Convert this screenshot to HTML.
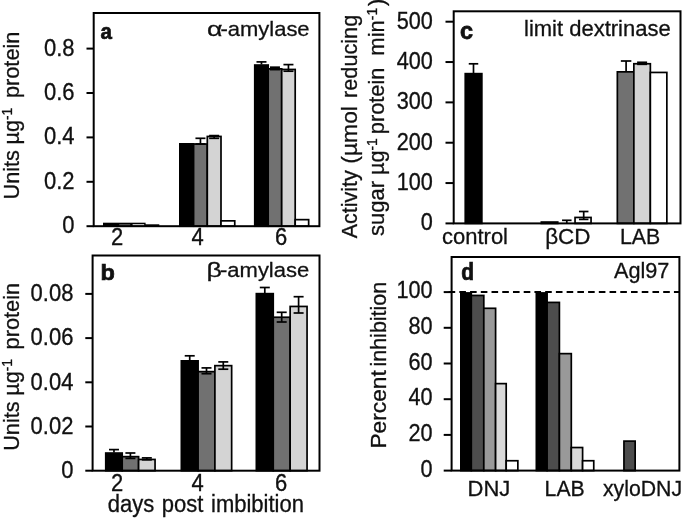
<!DOCTYPE html>
<html>
<head>
<meta charset="utf-8">
<title>Figure</title>
<style>
html, body { margin: 0; padding: 0; background: #fff; }
body { width: 685px; height: 519px; overflow: hidden; }
svg { display: block; filter: grayscale(1); }
svg text { font-family: "Liberation Sans", sans-serif; fill: #111; stroke: #111; stroke-width: 0.3px; }
</style>
</head>
<body>
<svg width="685" height="519" viewBox="0 0 685 519">
<rect x="0" y="0" width="685" height="519" fill="#fff"/>
<rect x="103.0" y="222.7" width="42.6" height="3.50" fill="#000"/>
<rect x="145.0" y="224.3" width="14.3" height="1.90" fill="#000"/>
<rect x="119.2" y="224.5" width="11.0" height="1.0" fill="#999"/>
<rect x="132.6" y="224.2" width="11.6" height="1.3" fill="#eee"/>
<rect x="179.85" y="143.85" width="13.75" height="82.35" fill="#000" stroke="#000" stroke-width="1.7"/>
<rect x="193.60" y="144.05" width="13.70" height="82.15" fill="#717171" stroke="#000" stroke-width="1.7"/>
<rect x="207.30" y="136.45" width="13.70" height="89.75" fill="#d4d4d4" stroke="#000" stroke-width="1.7"/>
<rect x="221.00" y="220.85" width="13.75" height="5.35" fill="#fff" stroke="#000" stroke-width="1.7"/>
<line x1="200.45" y1="138.30" x2="200.45" y2="144.00" stroke="#000" stroke-width="1.7"/>
<line x1="195.45" y1="138.30" x2="205.45" y2="138.30" stroke="#000" stroke-width="1.7"/>
<line x1="195.45" y1="144.00" x2="205.45" y2="144.00" stroke="#000" stroke-width="1.7"/>
<line x1="214.15" y1="135.60" x2="214.15" y2="138.30" stroke="#000" stroke-width="1.7"/>
<line x1="209.15" y1="135.60" x2="219.15" y2="135.60" stroke="#000" stroke-width="1.7"/>
<line x1="209.15" y1="138.30" x2="219.15" y2="138.30" stroke="#000" stroke-width="1.7"/>
<rect x="254.75" y="65.05" width="13.45" height="161.15" fill="#000" stroke="#000" stroke-width="1.7"/>
<rect x="268.20" y="68.85" width="13.50" height="157.35" fill="#717171" stroke="#000" stroke-width="1.7"/>
<rect x="281.70" y="69.45" width="13.50" height="156.75" fill="#d4d4d4" stroke="#000" stroke-width="1.7"/>
<rect x="295.20" y="219.65" width="13.45" height="6.55" fill="#fff" stroke="#000" stroke-width="1.7"/>
<line x1="261.48" y1="61.90" x2="261.48" y2="64.50" stroke="#000" stroke-width="1.7"/>
<line x1="256.48" y1="61.90" x2="266.48" y2="61.90" stroke="#000" stroke-width="1.7"/>
<line x1="274.95" y1="67.20" x2="274.95" y2="69.60" stroke="#000" stroke-width="1.7"/>
<line x1="269.95" y1="67.20" x2="279.95" y2="67.20" stroke="#000" stroke-width="1.7"/>
<line x1="269.95" y1="69.60" x2="279.95" y2="69.60" stroke="#000" stroke-width="1.7"/>
<line x1="288.45" y1="64.60" x2="288.45" y2="71.20" stroke="#000" stroke-width="1.7"/>
<line x1="283.45" y1="64.60" x2="293.45" y2="64.60" stroke="#000" stroke-width="1.7"/>
<line x1="283.45" y1="71.20" x2="293.45" y2="71.20" stroke="#000" stroke-width="1.7"/>
<rect x="93.70" y="13.00" width="225.70" height="213.20" fill="none" stroke="#000" stroke-width="2.0"/>
<line x1="86.50" y1="226.20" x2="93.70" y2="226.20" stroke="#000" stroke-width="2.0"/>
<line x1="86.50" y1="181.80" x2="93.70" y2="181.80" stroke="#000" stroke-width="2.0"/>
<line x1="86.50" y1="137.40" x2="93.70" y2="137.40" stroke="#000" stroke-width="2.0"/>
<line x1="86.50" y1="93.00" x2="93.70" y2="93.00" stroke="#000" stroke-width="2.0"/>
<line x1="86.50" y1="48.60" x2="93.70" y2="48.60" stroke="#000" stroke-width="2.0"/>
<text transform="translate(74.60,233.20) scale(1,1.11)" text-anchor="end" font-size="22">0</text>
<text transform="translate(74.60,188.80) scale(1,1.11)" text-anchor="end" font-size="22">0.2</text>
<text transform="translate(74.60,144.40) scale(1,1.11)" text-anchor="end" font-size="22">0.4</text>
<text transform="translate(74.60,100.00) scale(1,1.11)" text-anchor="end" font-size="22">0.6</text>
<text transform="translate(74.60,55.60) scale(1,1.11)" text-anchor="end" font-size="22">0.8</text>
<text transform="translate(117.00,245.30) scale(1,1.11)" text-anchor="middle" font-size="22">2</text>
<text transform="translate(197.70,245.30) scale(1,1.11)" text-anchor="middle" font-size="22">4</text>
<text transform="translate(281.00,245.30) scale(1,1.11)" text-anchor="middle" font-size="22">6</text>
<text transform="translate(309.60,35.90) scale(1,0.955)" text-anchor="end" font-size="22">-amylase</text>
<text transform="translate(222.40,35.90) scale(1.22,0.955)" text-anchor="end" font-size="22">α</text>
<text transform="translate(100.60,39.00) scale(0.98,1.09)" text-anchor="start" font-size="21" font-weight="bold" style="stroke-width:0.65px">a</text>
<text transform="translate(19.00,199.50) rotate(-90) scale(0.985,1)" font-size="22">Units</text>
<text transform="translate(19.00,144.50) rotate(-90) scale(0.985,1)" font-size="22">µg<tspan font-size="14" dy="-7.5">-1</tspan></text>
<text transform="translate(19.00,98.10) rotate(-90) scale(0.99,1)" font-size="22">protein</text>
<rect x="105.75" y="453.05" width="16.45" height="17.65" fill="#000" stroke="#000" stroke-width="1.7"/>
<rect x="122.20" y="456.65" width="16.40" height="14.05" fill="#717171" stroke="#000" stroke-width="1.7"/>
<rect x="138.60" y="459.45" width="16.45" height="11.25" fill="#d4d4d4" stroke="#000" stroke-width="1.7"/>
<line x1="113.97" y1="449.60" x2="113.97" y2="452.60" stroke="#000" stroke-width="1.7"/>
<line x1="108.97" y1="449.60" x2="118.97" y2="449.60" stroke="#000" stroke-width="1.7"/>
<line x1="130.40" y1="453.00" x2="130.40" y2="458.40" stroke="#000" stroke-width="1.7"/>
<line x1="125.40" y1="453.00" x2="135.40" y2="453.00" stroke="#000" stroke-width="1.7"/>
<line x1="125.40" y1="458.40" x2="135.40" y2="458.40" stroke="#000" stroke-width="1.7"/>
<line x1="146.82" y1="457.90" x2="146.82" y2="459.80" stroke="#000" stroke-width="1.7"/>
<line x1="141.82" y1="457.90" x2="151.82" y2="457.90" stroke="#000" stroke-width="1.7"/>
<line x1="141.82" y1="459.80" x2="151.82" y2="459.80" stroke="#000" stroke-width="1.7"/>
<rect x="181.35" y="360.85" width="16.75" height="109.85" fill="#000" stroke="#000" stroke-width="1.7"/>
<rect x="198.10" y="371.65" width="16.80" height="99.05" fill="#717171" stroke="#000" stroke-width="1.7"/>
<rect x="214.90" y="365.65" width="16.75" height="105.05" fill="#d4d4d4" stroke="#000" stroke-width="1.7"/>
<line x1="189.72" y1="355.80" x2="189.72" y2="360.40" stroke="#000" stroke-width="1.7"/>
<line x1="184.72" y1="355.80" x2="194.72" y2="355.80" stroke="#000" stroke-width="1.7"/>
<line x1="206.50" y1="367.90" x2="206.50" y2="373.70" stroke="#000" stroke-width="1.7"/>
<line x1="201.50" y1="367.90" x2="211.50" y2="367.90" stroke="#000" stroke-width="1.7"/>
<line x1="201.50" y1="373.70" x2="211.50" y2="373.70" stroke="#000" stroke-width="1.7"/>
<line x1="223.28" y1="361.90" x2="223.28" y2="369.20" stroke="#000" stroke-width="1.7"/>
<line x1="218.28" y1="361.90" x2="228.28" y2="361.90" stroke="#000" stroke-width="1.7"/>
<line x1="218.28" y1="369.20" x2="228.28" y2="369.20" stroke="#000" stroke-width="1.7"/>
<rect x="256.35" y="293.65" width="16.90" height="177.05" fill="#000" stroke="#000" stroke-width="1.7"/>
<rect x="273.25" y="317.25" width="16.90" height="153.45" fill="#717171" stroke="#000" stroke-width="1.7"/>
<rect x="290.15" y="306.45" width="16.90" height="164.25" fill="#d4d4d4" stroke="#000" stroke-width="1.7"/>
<line x1="264.80" y1="287.50" x2="264.80" y2="293.20" stroke="#000" stroke-width="1.7"/>
<line x1="259.80" y1="287.50" x2="269.80" y2="287.50" stroke="#000" stroke-width="1.7"/>
<line x1="281.70" y1="312.30" x2="281.70" y2="322.00" stroke="#000" stroke-width="1.7"/>
<line x1="276.70" y1="312.30" x2="286.70" y2="312.30" stroke="#000" stroke-width="1.7"/>
<line x1="276.70" y1="322.00" x2="286.70" y2="322.00" stroke="#000" stroke-width="1.7"/>
<line x1="298.60" y1="296.70" x2="298.60" y2="313.00" stroke="#000" stroke-width="1.7"/>
<line x1="293.60" y1="296.70" x2="303.60" y2="296.70" stroke="#000" stroke-width="1.7"/>
<line x1="293.60" y1="313.00" x2="303.60" y2="313.00" stroke="#000" stroke-width="1.7"/>
<rect x="92.60" y="255.50" width="226.90" height="215.20" fill="none" stroke="#000" stroke-width="2.0"/>
<line x1="85.30" y1="470.70" x2="92.60" y2="470.70" stroke="#000" stroke-width="2.0"/>
<line x1="85.30" y1="426.50" x2="92.60" y2="426.50" stroke="#000" stroke-width="2.0"/>
<line x1="85.30" y1="382.30" x2="92.60" y2="382.30" stroke="#000" stroke-width="2.0"/>
<line x1="85.30" y1="338.10" x2="92.60" y2="338.10" stroke="#000" stroke-width="2.0"/>
<line x1="85.30" y1="293.90" x2="92.60" y2="293.90" stroke="#000" stroke-width="2.0"/>
<text transform="translate(73.40,477.90) scale(1,1.11)" text-anchor="end" font-size="22">0</text>
<text transform="translate(73.40,433.70) scale(1,1.11)" text-anchor="end" font-size="22">0.02</text>
<text transform="translate(73.40,389.50) scale(1,1.11)" text-anchor="end" font-size="22">0.04</text>
<text transform="translate(73.40,345.30) scale(1,1.11)" text-anchor="end" font-size="22">0.06</text>
<text transform="translate(73.40,301.10) scale(1,1.11)" text-anchor="end" font-size="22">0.08</text>
<text transform="translate(117.00,490.70) scale(1,1.11)" text-anchor="middle" font-size="22">2</text>
<text transform="translate(197.70,490.70) scale(1,1.11)" text-anchor="middle" font-size="22">4</text>
<text transform="translate(281.00,490.70) scale(1,1.11)" text-anchor="middle" font-size="22">6</text>
<text transform="translate(309.20,277.00) scale(1,0.95)" text-anchor="end" font-size="22">-amylase</text>
<text transform="translate(222.00,277.00) scale(1.22,0.95)" text-anchor="end" font-size="22">β</text>
<text transform="translate(100.40,280.30) scale(1.12,1.08)" text-anchor="start" font-size="21" font-weight="bold" style="stroke-width:0.65px">b</text>
<text transform="translate(19.00,450.80) rotate(-90) scale(0.985,1)" font-size="22">Units</text>
<text transform="translate(19.00,395.80) rotate(-90) scale(0.985,1)" font-size="22">µg<tspan font-size="14" dy="-7.5">-1</tspan></text>
<text transform="translate(19.00,349.40) rotate(-90) scale(0.99,1)" font-size="22">protein</text>
<text transform="translate(107.80,512.00) scale(1,1.05)" text-anchor="start" font-size="22" word-spacing="1.5">days post imbibition</text>
<rect x="465.25" y="73.65" width="16.60" height="149.75" fill="#000" stroke="#000" stroke-width="1.7"/>
<line x1="473.50" y1="63.80" x2="473.50" y2="73.20" stroke="#000" stroke-width="1.7"/>
<line x1="468.75" y1="63.80" x2="478.25" y2="63.80" stroke="#000" stroke-width="1.7"/>
<rect x="541.35" y="222.05" width="16.40" height="1.35" fill="#717171" stroke="#000" stroke-width="1.7"/>
<line x1="566.80" y1="220.30" x2="566.80" y2="223.40" stroke="#000" stroke-width="1.7"/>
<line x1="562.05" y1="220.30" x2="571.55" y2="220.30" stroke="#000" stroke-width="1.7"/>
<rect x="575.05" y="217.45" width="16.00" height="5.95" fill="#fff" stroke="#000" stroke-width="1.7"/>
<line x1="583.70" y1="211.50" x2="583.70" y2="219.40" stroke="#000" stroke-width="1.7"/>
<line x1="578.95" y1="211.50" x2="588.45" y2="211.50" stroke="#000" stroke-width="1.7"/>
<line x1="578.95" y1="219.40" x2="588.45" y2="219.40" stroke="#000" stroke-width="1.7"/>
<rect x="617.35" y="71.85" width="16.50" height="151.55" fill="#717171" stroke="#000" stroke-width="1.7"/>
<rect x="633.85" y="63.75" width="16.50" height="159.65" fill="#d4d4d4" stroke="#000" stroke-width="1.7"/>
<rect x="650.35" y="72.45" width="16.50" height="150.95" fill="#fff" stroke="#000" stroke-width="1.7"/>
<line x1="626.10" y1="61.00" x2="626.10" y2="71.50" stroke="#000" stroke-width="1.7"/>
<line x1="620.85" y1="61.00" x2="631.35" y2="61.00" stroke="#000" stroke-width="1.7"/>
<line x1="642.10" y1="62.30" x2="642.10" y2="64.30" stroke="#000" stroke-width="1.7"/>
<line x1="637.10" y1="62.30" x2="647.10" y2="62.30" stroke="#000" stroke-width="1.7"/>
<line x1="637.10" y1="64.30" x2="647.10" y2="64.30" stroke="#000" stroke-width="1.7"/>
<rect x="453.70" y="11.30" width="226.80" height="212.10" fill="none" stroke="#000" stroke-width="2.0"/>
<line x1="445.50" y1="223.40" x2="453.70" y2="223.40" stroke="#000" stroke-width="2.0"/>
<line x1="445.50" y1="183.06" x2="453.70" y2="183.06" stroke="#000" stroke-width="2.0"/>
<line x1="445.50" y1="142.72" x2="453.70" y2="142.72" stroke="#000" stroke-width="2.0"/>
<line x1="445.50" y1="102.38" x2="453.70" y2="102.38" stroke="#000" stroke-width="2.0"/>
<line x1="445.50" y1="62.04" x2="453.70" y2="62.04" stroke="#000" stroke-width="2.0"/>
<line x1="445.50" y1="21.70" x2="453.70" y2="21.70" stroke="#000" stroke-width="2.0"/>
<text transform="translate(432.80,230.40) scale(0.985,1.08)" text-anchor="end" font-size="22">0</text>
<text transform="translate(432.80,190.06) scale(0.985,1.08)" text-anchor="end" font-size="22">100</text>
<text transform="translate(432.80,149.72) scale(0.985,1.08)" text-anchor="end" font-size="22">200</text>
<text transform="translate(432.80,109.38) scale(0.985,1.08)" text-anchor="end" font-size="22">300</text>
<text transform="translate(432.80,69.04) scale(0.985,1.08)" text-anchor="end" font-size="22">400</text>
<text transform="translate(432.80,28.70) scale(0.985,1.08)" text-anchor="end" font-size="22">500</text>
<text transform="translate(442.00,243.70) scale(1,0.985)" text-anchor="start" font-size="22">control</text>
<text transform="translate(545.20,243.70) scale(1.02,0.985)" text-anchor="start" font-size="22">βCD</text>
<text transform="translate(619.90,243.70) scale(0.97,0.985)" text-anchor="start" font-size="22">LAB</text>
<text transform="translate(670.70,35.90) scale(1,0.985)" text-anchor="end" font-size="22">limit dextrinase</text>
<text transform="translate(460.00,39.20) scale(1.12,1.17)" text-anchor="start" font-size="21" font-weight="bold" style="stroke-width:0.65px">c</text>
<text transform="translate(357.00,238.20) rotate(-90) scale(0.975,1)" font-size="22">Activity</text>
<text transform="translate(357.00,163.70) rotate(-90) scale(1.04,1)" font-size="22">(µmol</text>
<text transform="translate(357.00,97.90) rotate(-90) scale(0.985,1)" font-size="22">reducing</text>
<text transform="translate(384.00,236.00) rotate(-90) scale(1.0,1)" font-size="22">sugar</text>
<text transform="translate(384.00,175.10) rotate(-90) scale(0.985,1)" font-size="22">µg<tspan font-size="14" dy="-7.5">-1</tspan></text>
<text transform="translate(384.00,134.20) rotate(-90) scale(0.99,1)" font-size="22">protein</text>
<text transform="translate(384.00,55.70) rotate(-90) scale(1.0,1)" font-size="22">min<tspan font-size="14" dy="-7.5">-1</tspan></text>
<text transform="translate(384.00,5.90) rotate(-90) scale(1.0,1)" font-size="22">)</text>
<rect x="460.85" y="292.95" width="10.45" height="177.65" fill="#000" stroke="#000" stroke-width="1.7"/>
<rect x="471.30" y="295.45" width="12.50" height="175.15" fill="#4d4d4d" stroke="#000" stroke-width="1.7"/>
<rect x="483.80" y="308.30" width="11.80" height="162.30" fill="#999" stroke="#000" stroke-width="1.7"/>
<rect x="495.60" y="383.63" width="10.60" height="86.97" fill="#d9d9d9" stroke="#000" stroke-width="1.7"/>
<rect x="506.20" y="460.74" width="11.65" height="9.86" fill="#fff" stroke="#000" stroke-width="1.7"/>
<rect x="536.35" y="292.95" width="10.75" height="177.65" fill="#000" stroke="#000" stroke-width="1.7"/>
<rect x="547.10" y="302.41" width="12.30" height="168.19" fill="#4d4d4d" stroke="#000" stroke-width="1.7"/>
<rect x="559.40" y="353.64" width="11.90" height="116.96" fill="#999" stroke="#000" stroke-width="1.7"/>
<rect x="571.30" y="447.53" width="11.30" height="23.07" fill="#d9d9d9" stroke="#000" stroke-width="1.7"/>
<rect x="582.60" y="460.74" width="11.15" height="9.86" fill="#fff" stroke="#000" stroke-width="1.7"/>
<rect x="623.95" y="441.11" width="11.20" height="29.50" fill="#4d4d4d" stroke="#000" stroke-width="1.7"/>
<line x1="448.6" y1="292.0" x2="679.40" y2="292.0" stroke="#000" stroke-width="2.2" stroke-dasharray="6.6 4.13"/>
<rect x="451.60" y="257.00" width="227.80" height="213.60" fill="none" stroke="#000" stroke-width="2.0"/>
<line x1="443.70" y1="470.60" x2="451.60" y2="470.60" stroke="#000" stroke-width="2.0"/>
<line x1="443.70" y1="434.90" x2="451.60" y2="434.90" stroke="#000" stroke-width="2.0"/>
<line x1="443.70" y1="399.20" x2="451.60" y2="399.20" stroke="#000" stroke-width="2.0"/>
<line x1="443.70" y1="363.50" x2="451.60" y2="363.50" stroke="#000" stroke-width="2.0"/>
<line x1="443.70" y1="327.80" x2="451.60" y2="327.80" stroke="#000" stroke-width="2.0"/>
<line x1="443.70" y1="292.10" x2="451.60" y2="292.10" stroke="#000" stroke-width="2.0"/>
<text transform="translate(432.60,476.80) scale(0.985,1.07)" text-anchor="end" font-size="22">0</text>
<text transform="translate(432.60,441.10) scale(0.985,1.07)" text-anchor="end" font-size="22">20</text>
<text transform="translate(432.60,405.40) scale(0.985,1.07)" text-anchor="end" font-size="22">40</text>
<text transform="translate(432.60,369.70) scale(0.985,1.07)" text-anchor="end" font-size="22">60</text>
<text transform="translate(432.60,334.00) scale(0.985,1.07)" text-anchor="end" font-size="22">80</text>
<text transform="translate(432.60,298.30) scale(0.985,1.07)" text-anchor="end" font-size="22">100</text>
<text transform="translate(467.50,495.70) scale(1,0.975)" text-anchor="start" font-size="22">DNJ</text>
<text transform="translate(544.60,495.70) scale(0.965,0.975)" text-anchor="start" font-size="22">LAB</text>
<text transform="translate(602.90,495.70) scale(0.968,0.975)" text-anchor="start" font-size="22">xyloDNJ</text>
<text transform="translate(669.40,277.50) scale(0.985,1.02)" text-anchor="end" font-size="22">Agl97</text>
<text transform="translate(461.20,280.40) scale(1.0,1.15)" text-anchor="start" font-size="21" font-weight="bold" style="stroke-width:0.65px">d</text>
<text transform="translate(386.00,448.60) rotate(-90) scale(1.035,1)" font-size="22">Percent</text>
<text transform="translate(386.00,366.50) rotate(-90) scale(0.975,1)" font-size="22">inhibition</text>
</svg>
</body>
</html>
